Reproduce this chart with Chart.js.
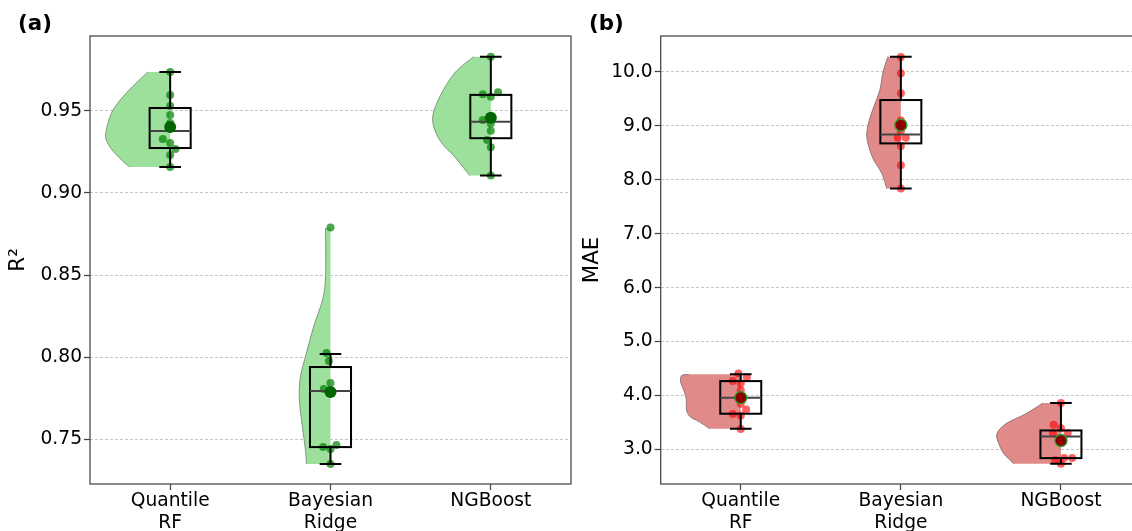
<!DOCTYPE html>
<html><head><meta charset="utf-8">
<script src="https://cdn.jsdelivr.net/npm/chart.js@4.4.0/dist/chart.umd.min.js"></script>
<style>
html,body{margin:0;padding:0;overflow:hidden;background:#fff;width:1132px;height:531px}
#ca{position:absolute;left:0;top:0}
#cb{position:absolute;left:570px;top:0}
</style></head><body>
<canvas id="ca" width="580" height="531"></canvas>
<canvas id="cb" width="580" height="531"></canvas>
<script>
const categories = ['Quantile RF', 'Bayesian Ridge', 'NGBoost'];
const r2Ticks = [0.75, 0.80, 0.85, 0.90, 0.95];
const maeTicks = [3, 4, 5, 6, 7, 8, 9, 10];

// (a) R² per-fold values and their horizontal strip jitter (category units)
const r2QuantileRF = [0.9738, 0.9598, 0.9530, 0.9476, 0.9427, 0.9329, 0.9305, 0.9268, 0.9232, 0.9159];
const r2QuantileRFJitter = [0, 0, 0, 0, 0, -0.046, 0, 0.033, 0, 0];
const r2BayesianRidge = [0.8790, 0.8024, 0.7976, 0.7841, 0.7805, 0.7780, 0.7463, 0.7451, 0.7439, 0.7348];
const r2BayesianRidgeJitter = [0, -0.025, -0.01, 0, -0.042, 0, 0.037, -0.046, 0, 0];
const r2NGBoost = [0.9831, 0.9614, 0.9602, 0.9587, 0.9445, 0.9423, 0.9380, 0.9323, 0.9279, 0.9106];
const r2NGBoostJitter = [0, 0.045, -0.05, 0, -0.05, 0, 0, -0.023, 0, 0];

// (a) box statistics and means
const r2Whislo = [0.9159, 0.7348, 0.9106];
const r2Q1 = [0.9274, 0.7451, 0.9334];
const r2Median = [0.9378, 0.7793, 0.9435];
const r2Q3 = [0.9518, 0.7939, 0.9598];
const r2Whishi = [0.9738, 0.8018, 0.9831];
const r2Mean = [0.9402, 0.7787, 0.9459];

// (a) half-violin outlines: values and half widths (category units)
const r2ViolinQuantileRFValues = [0.9738, 0.9669, 0.9587, 0.9506, 0.9425, 0.9343, 0.9290, 0.9242, 0.9181, 0.9159];
const r2ViolinQuantileRFWidths = [0.138, 0.213, 0.294, 0.356, 0.388, 0.403, 0.381, 0.344, 0.281, 0.25];
const r2ViolinBayesianRidgeValues = [0.8787, 0.8488, 0.8348, 0.8183, 0.8024, 0.7878, 0.7738, 0.7573, 0.7433, 0.7348];
const r2ViolinBayesianRidgeWidths = [0.031, 0.031, 0.05, 0.106, 0.15, 0.188, 0.194, 0.175, 0.156, 0.15];
const r2ViolinNGBoostValues = [0.9831, 0.9732, 0.9585, 0.9451, 0.9323, 0.9220, 0.9106];
const r2ViolinNGBoostWidths = [0.106, 0.225, 0.319, 0.363, 0.319, 0.225, 0.131];

// (b) MAE per-fold values and jitter
const maeQuantileRF = [4.41, 4.34, 4.27, 4.23, 4.10, 3.85, 3.74, 3.66, 3.63, 3.38];
const maeQuantileRFJitter = [-0.015, 0.038, -0.05, 0, 0, 0, 0.034, -0.05, 0, 0];
const maeBayesianRidge = [10.28, 9.976, 9.604, 9.10, 8.90, 8.78, 8.78, 8.626, 8.27, 7.84];
const maeBayesianRidgeJitter = [0, 0, 0, 0, 0, -0.02, 0.031, 0, 0, 0];
const maeNGBoost = [3.86, 3.458, 3.396, 3.30, 3.30, 3.20, 2.84, 2.84, 2.80, 2.734];
const maeNGBoostJitter = [0, -0.046, 0, -0.05, 0.042, 0, 0.02, 0.07, -0.036, 0];

// (b) box statistics and means
const maeWhislo = [3.384, 7.84, 2.734];
const maeQ1 = [3.663, 8.676, 2.84];
const maeMedian = [3.96, 8.843, 3.24];
const maeQ3 = [4.268, 9.48, 3.353];
const maeWhishi = [4.393, 10.284, 3.86];
const maeMean = [3.96, 9.016, 3.167];

// (b) half-violin outlines
const maeViolinQuantileRFValues = [4.393, 4.37, 4.25, 4.1, 3.94, 3.72, 3.6, 3.54, 3.46, 3.384];
const maeViolinQuantileRFWidths = [0.325, 0.369, 0.375, 0.356, 0.341, 0.338, 0.313, 0.275, 0.231, 0.194];
const maeViolinBayesianRidgeValues = [10.284, 9.976, 9.666, 9.355, 9.077, 8.83, 8.613, 8.366, 8.119, 7.84];
const maeViolinBayesianRidgeWidths = [0.081, 0.113, 0.131, 0.169, 0.2, 0.213, 0.2, 0.169, 0.119, 0.088];
const maeViolinNGBoostValues = [3.86, 3.663, 3.477, 3.291, 3.106, 2.92, 2.734];
const maeViolinNGBoostWidths = [0.113, 0.219, 0.344, 0.4, 0.388, 0.356, 0.294];

const FONT = 'DejaVu Sans';

function curveThrough(ctx, pts) {
  for (let i = 0; i < pts.length - 1; i++) {
    const p0 = pts[Math.max(i - 1, 0)], p1 = pts[i], p2 = pts[i + 1], p3 = pts[Math.min(i + 2, pts.length - 1)];
    const c1x = p1.x + (p2.x - p0.x) / 6, c1y = p1.y + (p2.y - p0.y) / 6;
    const c2x = p2.x - (p3.x - p1.x) / 6, c2y = p2.y - (p3.y - p1.y) / 6;
    ctx.bezierCurveTo(c1x, c1y, c2x, c2y, p2.x, p2.y);
  }
}

function panelPlugin(cfg) {
  return {
    id: 'panel' + cfg.letter,
    beforeDatasetsDraw(chart) {
      const {ctx} = chart; const x = chart.scales.x, y = chart.scales.y;
      ctx.save();
      cfg.violins.forEach((v, i) => {
        const pts = v.values.map((val, k) => ({x: x.getPixelForValue(i - v.widths[k]), y: y.getPixelForValue(val)}));
        const cx = x.getPixelForValue(i);
        ctx.beginPath();
        ctx.moveTo(cx, pts[0].y);
        ctx.lineTo(pts[0].x, pts[0].y);
        curveThrough(ctx, pts);
        ctx.lineTo(cx, pts[pts.length - 1].y);
        ctx.closePath();
        ctx.fillStyle = cfg.violinFill;
        ctx.fill();
        ctx.beginPath();
        ctx.moveTo(pts[0].x, pts[0].y);
        curveThrough(ctx, pts);
        ctx.strokeStyle = cfg.violinEdge; ctx.lineWidth = 1; ctx.stroke();
      });
      ctx.restore();
    },
    afterDatasetDraw(chart, args) {
      if (args.index !== 1) return;
      const {ctx} = chart; const x = chart.scales.x, y = chart.scales.y;
      ctx.save();
      ctx.lineCap = 'butt';
      for (let i = 0; i < categories.length; i++) {
        const xl = x.getPixelForValue(i - 0.128), xr = x.getPixelForValue(i + 0.128), cx = x.getPixelForValue(i);
        const cl = x.getPixelForValue(i - 0.0675), cr = x.getPixelForValue(i + 0.0675);
        const yq1 = y.getPixelForValue(cfg.q1[i]), yq3 = y.getPixelForValue(cfg.q3[i]);
        const ylo = y.getPixelForValue(cfg.lo[i]), yhi = y.getPixelForValue(cfg.hi[i]);
        const ym = y.getPixelForValue(cfg.med[i]);
        ctx.strokeStyle = '#000'; ctx.lineWidth = 2;
        ctx.strokeRect(xl, yq3, xr - xl, yq1 - yq3);
        ctx.beginPath();
        ctx.moveTo(cx, yq3); ctx.lineTo(cx, yhi);
        ctx.moveTo(cx, yq1); ctx.lineTo(cx, ylo);
        ctx.moveTo(cl, yhi); ctx.lineTo(cr, yhi);
        ctx.moveTo(cl, ylo); ctx.lineTo(cr, ylo);
        ctx.stroke();
        ctx.beginPath();
        ctx.strokeStyle = '#444'; ctx.lineWidth = 2;
        ctx.moveTo(xl, ym); ctx.lineTo(xr, ym); ctx.stroke();
      }
      ctx.restore();
    },
    afterDraw(chart) {
      const {ctx, chartArea: a} = chart;
      ctx.save();
      ctx.strokeStyle = '#444'; ctx.lineWidth = 1.25;
      ctx.strokeRect(a.left, a.top, a.right - a.left, a.bottom - a.top);
      ctx.fillStyle = '#000';
      ctx.font = 'bold 21.33px "' + FONT + '"';
      ctx.textBaseline = 'alphabetic'; ctx.textAlign = 'left';
      ctx.fillText('(' + cfg.letter + ')', cfg.letterX, 30);
      ctx.restore();
    }
  };
}

function buildPoints(vals, jit, i) { return vals.map((v, k) => ({x: i + jit[k], y: v})); }

function makeChart(id, p) {
  const points = [].concat(
    buildPoints(p.series[0], p.jitters[0], 0),
    buildPoints(p.series[1], p.jitters[1], 1),
    buildPoints(p.series[2], p.jitters[2], 2));
  const means = p.mean.map((m, i) => ({x: i, y: m}));
  return new Chart(document.getElementById(id), {
    type: 'scatter',
    data: {
      datasets: [
        {label: 'mean', data: means, pointRadius: 6, pointBackgroundColor: p.meanColor,
         pointBorderColor: p.meanEdge, pointBorderWidth: p.meanEdgeWidth},
        {label: 'folds', data: points, pointRadius: 4, pointBackgroundColor: p.pointColor, pointBorderWidth: 0, pointBorderColor: 'rgba(0,0,0,0)'}
      ]
    },
    options: {
      responsive: false, animation: false,
      layout: {padding: {top: 36, right: 9, left: 0, bottom: 0}},
      plugins: {legend: {display: false}, tooltip: {enabled: false}},
      scales: {
        x: {
          type: 'linear', min: -0.5, max: 2.5,
          afterBuildTicks: s => { s.ticks = categories.map((c, i) => ({value: i})); },
          afterFit: s => { s.height = 47; },
          ticks: {callback: v => categories[v].split(' '), font: {family: FONT, size: 18.67}, color: '#000', padding: 0, maxRotation: 0, autoSkip: false},
          grid: {drawOnChartArea: false, tickColor: '#444', tickLength: 6, tickWidth: 1.25},
          border: {display: false}
        },
        y: {
          type: 'linear', min: p.ymin, max: p.ymax,
          afterBuildTicks: s => { s.ticks = p.ticks.map(v => ({value: v})); },
          afterFit: s => { s.width = p.yAxisWidth; },
          ticks: {callback: v => v.toFixed(p.decimals), font: {family: FONT, size: 18.67}, color: '#000', padding: 2},
          grid: {color: '#c4c4c4', lineWidth: 1, tickColor: '#444', tickLength: 6, tickWidth: 1.25, tickBorderDash: []},
          border: {display: false, dash: [3, 2]},
          title: {display: true, text: p.yTitle, font: {family: FONT, size: 21.33}, color: '#000', padding: {top: p.titlePad, bottom: 0}}
        }
      }
    },
    plugins: [panelPlugin(p.plugin)]
  });
}

makeChart('ca', {
  series: [r2QuantileRF, r2BayesianRidge, r2NGBoost],
  jitters: [r2QuantileRFJitter, r2BayesianRidgeJitter, r2NGBoostJitter],
  mean: r2Mean, meanColor: '#006400', meanEdge: 'rgba(0,100,0,1)', meanEdgeWidth: 0,
  pointColor: 'rgba(0,128,0,0.7)',
  ymin: 0.7226, ymax: 0.9957, ticks: r2Ticks, decimals: 2, yAxisWidth: 90, yTitle: 'R²', titlePad: 6,
  plugin: {
    letter: 'a', letterX: 18,
    violinFill: 'rgb(156,224,156)', violinEdge: 'rgba(120,140,120,0.9)',
    violins: [
      {values: r2ViolinQuantileRFValues, widths: r2ViolinQuantileRFWidths},
      {values: r2ViolinBayesianRidgeValues, widths: r2ViolinBayesianRidgeWidths},
      {values: r2ViolinNGBoostValues, widths: r2ViolinNGBoostWidths}
    ],
    lo: r2Whislo, q1: r2Q1, med: r2Median, q3: r2Q3, hi: r2Whishi
  }
});

makeChart('cb', {
  series: [maeQuantileRF, maeBayesianRidge, maeNGBoost],
  jitters: [maeQuantileRFJitter, maeBayesianRidgeJitter, maeNGBoostJitter],
  mean: maeMean, meanColor: '#8b0000', meanEdge: 'rgb(40,160,40)', meanEdgeWidth: 1.3,
  pointColor: 'rgba(255,0,0,0.62)',
  ymin: 2.36, ymax: 10.6675, ticks: maeTicks, decimals: 1, yAxisWidth: 90.7, yTitle: 'MAE', titlePad: 10,
  plugin: {
    letter: 'b', letterX: 19,
    violinFill: 'rgb(224,138,138)', violinEdge: 'rgba(140,110,110,0.9)',
    violins: [
      {values: maeViolinQuantileRFValues, widths: maeViolinQuantileRFWidths},
      {values: maeViolinBayesianRidgeValues, widths: maeViolinBayesianRidgeWidths},
      {values: maeViolinNGBoostValues, widths: maeViolinNGBoostWidths}
    ],
    lo: maeWhislo, q1: maeQ1, med: maeMedian, q3: maeQ3, hi: maeWhishi
  }
});
</script>
</body></html>
